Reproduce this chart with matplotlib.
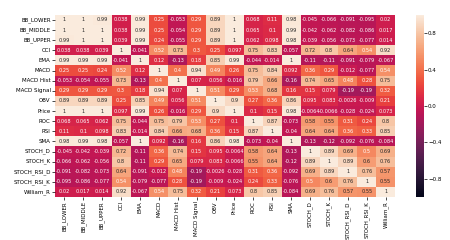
import matplotlib
matplotlib.use("Agg")
import matplotlib.pyplot as plt
import seaborn as sns
import numpy as np
import pandas as pd

labels = ["BB_LOWER", "BB_MIDDLE", "BB_UPPER", "CCI", "EMA", "MACD", "MACD Hist",
          "MACD Signal", "OBV", "Price", "ROC", "RSI", "SMA", "STOCH_D", "STOCH_K",
          "STOCH_RSI_D", "STOCH_RSI_K", "William_R"]

r_bb_lower = [1, 1, 0.99, 0.038, 0.99, 0.25, -0.053, 0.29, 0.89, 1, 0.068, 0.11, 0.98, -0.045, -0.066, -0.091, -0.095, 0.02]
r_bb_middle = [1, 1, 1, 0.038, 0.99, 0.25, -0.054, 0.29, 0.89, 1, 0.065, 0.1, 0.99, -0.042, -0.062, -0.082, -0.086, 0.017]
r_bb_upper = [0.99, 1, 1, 0.039, 0.99, 0.24, -0.055, 0.29, 0.89, 1, 0.062, 0.098, 0.98, -0.039, -0.056, -0.073, -0.077, 0.014]
r_cci = [0.038, 0.038, 0.039, 1, -0.041, 0.52, 0.73, 0.3, 0.25, 0.097, 0.75, 0.83, -0.057, 0.72, 0.8, 0.64, 0.54, 0.92]
r_ema = [0.99, 0.99, 0.99, -0.041, 1, 0.12, -0.13, 0.18, 0.85, 0.99, -0.044, -0.014, 1, -0.11, -0.11, -0.091, -0.079, -0.067]
r_macd = [0.25, 0.25, 0.24, 0.52, 0.12, 1, 0.4, 0.94, 0.49, 0.26, 0.75, 0.84, 0.092, 0.36, 0.29, -0.012, -0.077, 0.54]
r_macd_hist = [-0.053, -0.054, -0.055, 0.73, -0.13, 0.4, 1, 0.07, 0.056, -0.016, 0.79, 0.66, -0.16, 0.74, 0.65, 0.48, 0.28, 0.75]
r_macd_signal = [0.29, 0.29, 0.29, 0.3, 0.18, 0.94, 0.07, 1, 0.51, 0.29, 0.53, 0.68, 0.16, 0.15, 0.079, -0.19, -0.19, 0.32]
r_obv = [0.89, 0.89, 0.89, 0.25, 0.85, 0.49, 0.056, 0.51, 1, 0.9, 0.27, 0.36, 0.86, 0.095, 0.083, -0.0026, -0.009, 0.21]
r_price = [1, 1, 1, 0.097, 0.99, 0.26, -0.016, 0.29, 0.9, 1, 0.1, 0.15, 0.98, -0.0064, -0.0066, -0.028, -0.024, 0.073]
r_roc = [0.068, 0.065, 0.062, 0.75, -0.044, 0.75, 0.79, 0.53, 0.27, 0.1, 1, 0.87, -0.073, 0.58, 0.55, 0.31, 0.24, 0.8]
r_rsi = [0.11, 0.1, 0.098, 0.83, -0.014, 0.84, 0.66, 0.68, 0.36, 0.15, 0.87, 1, -0.04, 0.64, 0.64, 0.36, 0.33, 0.85]
r_sma = [0.98, 0.99, 0.98, -0.057, 1, 0.092, -0.16, 0.16, 0.86, 0.98, -0.073, -0.04, 1, -0.13, -0.12, -0.092, -0.076, -0.084]
r_stoch_d = [-0.045, -0.042, -0.039, 0.72, -0.11, 0.36, 0.74, 0.15, 0.095, -0.0064, 0.58, 0.64, -0.13, 1, 0.89, 0.69, 0.5, 0.69]
r_stoch_k = [-0.066, -0.062, -0.056, 0.8, -0.11, 0.29, 0.65, 0.079, 0.083, -0.0066, 0.55, 0.64, -0.12, 0.89, 1, 0.89, 0.6, 0.76]
r_stoch_rsi_d = [-0.091, -0.082, -0.073, 0.64, -0.091, -0.012, 0.48, -0.19, -0.0026, -0.028, 0.31, 0.36, -0.092, 0.69, 0.89, 1, 0.76, 0.57]
r_stoch_rsi_k = [-0.095, -0.086, -0.077, 0.54, -0.079, -0.077, 0.28, -0.19, -0.009, -0.024, 0.24, 0.33, -0.076, 0.5, 0.6, 0.76, 1, 0.55]
r_william_r = [0.02, 0.017, 0.014, 0.92, -0.067, 0.54, 0.75, 0.32, 0.21, 0.073, 0.8, 0.85, -0.084, 0.69, 0.76, 0.57, 0.55, 1]

rows = [r_bb_lower, r_bb_middle, r_bb_upper, r_cci, r_ema, r_macd, r_macd_hist,
        r_macd_signal, r_obv, r_price, r_roc, r_rsi, r_sma, r_stoch_d, r_stoch_k,
        r_stoch_rsi_d, r_stoch_rsi_k, r_william_r]
corr = pd.DataFrame(rows, index=labels, columns=labels)

fig = plt.figure(figsize=(4.5, 2.4), dpi=100)
ax = fig.add_axes([0.122, 0.179, 0.756, 0.759])
cax = fig.add_axes([0.924, 0.179, 0.018, 0.759])
sns.heatmap(corr, annot=True, cmap="rocket", vmin=-1, vmax=1, ax=ax, cbar_ax=cax,
            xticklabels=True, yticklabels=True,
            annot_kws={"fontsize": 3.6})
ax.tick_params(axis="both", labelsize=4, length=2, width=0.5, pad=1)
cax.tick_params(labelsize=4, length=2, width=0.5, pad=1)
cax.set_yticks([-0.8, -0.4, 0.0, 0.4, 0.8])
for t in ax.get_xticklabels():
    t.set_rotation(90)
for t in ax.get_yticklabels():
    t.set_rotation(0)
fig.savefig("out.png", dpi=100)
